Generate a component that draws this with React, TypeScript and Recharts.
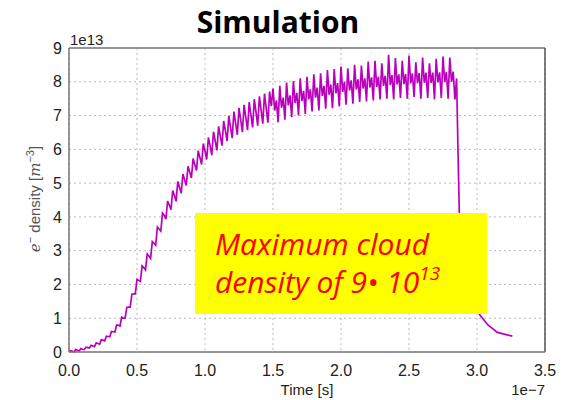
import React from "react";
import { LineChart, Line, XAxis, YAxis, CartesianGrid, ReferenceLine } from "recharts";

// Time in units of 1e-7 s, density in units of 1e13 m^-3
const TIME_STEP = 0.0125;
const riseValues = [
  // 0.0 - 0.5
  0.0, 0.04, 0.02, 0.01, 0.07, 0.05, 0.03, 0.1, 0.08, 0.07,
  0.14, 0.13, 0.12, 0.2, 0.18, 0.16, 0.27, 0.25, 0.23, 0.36,
  0.35, 0.33, 0.47, 0.46, 0.45, 0.61, 0.6, 0.59, 0.8, 0.79,
  0.77, 1.03, 1.0, 1.0, 1.32, 1.33, 1.33, 1.71, 1.72, 1.72,
  // 0.5 - 1.0
  2.15, 2.12, 2.09, 2.55, 2.5, 2.43, 2.9, 2.84, 2.77, 3.27,
  3.22, 3.16, 3.7, 3.64, 3.58, 4.11, 4.05, 3.93, 4.47, 4.35,
  4.21, 4.78, 4.63, 4.46, 5.05, 4.88, 4.7, 5.27, 5.1, 4.93,
  5.5, 5.33, 5.15, 5.73, 5.55, 5.37, 5.96, 5.76, 5.55, 6.17,
  // 1.0 - 1.5
  5.95, 5.7, 6.35, 6.1, 5.83, 6.52, 6.25, 5.97, 6.68, 6.4,
  6.11, 6.84, 6.55, 6.24, 6.99, 6.66, 6.33, 7.12, 6.78, 6.43,
  7.23, 6.87, 6.51, 7.32, 6.95, 6.57, 7.4, 7.02, 6.65, 7.49,
  7.1, 6.7, 7.57, 7.17, 6.76, 7.65, 7.22, 6.79, 7.71, 7.28,
  // 1.5 - 2.85
  7.8, 7.15, 7.45, 6.8, 7.88, 7.23, 7.53, 6.88, 7.98, 7.3,
  7.6, 6.95, 8.02, 7.37, 7.67, 7.0, 8.1, 7.43, 7.73, 7.05,
  8.15, 7.48, 7.78, 7.12, 8.22, 7.53, 7.83, 7.15, 8.25, 7.58,
  7.88, 7.2, 8.35, 7.62, 7.92, 7.22, 8.38, 7.66, 7.96, 7.27,
  8.45, 7.7, 8.0, 7.32, 8.4, 7.74, 8.04, 7.35, 8.5, 7.77,
  8.07, 7.4, 8.48, 7.8, 8.1, 7.42, 8.6, 7.83, 8.13, 7.45,
  8.62, 7.85, 8.15, 7.48, 8.55, 7.88, 8.18, 7.5, 8.8, 7.9,
  8.2, 7.48, 8.7, 7.92, 8.22, 7.52, 8.62, 7.93, 8.23, 7.5,
  8.78, 7.95, 8.25, 7.55, 8.58, 7.96, 8.26, 7.5, 8.72, 7.97,
  8.27, 7.52, 8.55, 7.97, 8.27, 7.48, 8.68, 7.98, 8.28, 7.52,
  8.75, 7.99, 8.29, 7.5, 8.72, 8.0, 8.3, 7.48, 8.1,
];
const tailTimes = [2.86, 2.87, 2.9, 2.95, 3.02, 3.08, 3.15, 3.26];
const tailValues = [6.0, 4.1, 2.7, 1.7, 1.1, 0.8, 0.58, 0.47];

const xTicks = [0, 0.5, 1.0, 1.5, 2.0, 2.5, 3.0, 3.5];
const yTicks = [0, 1, 2, 3, 4, 5, 6, 7, 8, 9];

const data = riseValues
  .map((v, i) => ({ t: Number((i * TIME_STEP).toFixed(4)), v }))
  .concat(tailTimes.map((t, i) => ({ t, v: tailValues[i] })));

const tickFont = { fontFamily: "Liberation Sans, Arial, sans-serif", fontSize: 16, fill: "#222" };

export default function App() {
  return (
    <div style={{ position: "absolute", left: 0, top: 0, width: 568, height: 400, background: "#fff" }}>
      <LineChart width={568} height={400} data={data} margin={{ top: 48, right: 23, bottom: 18, left: 9 }}>
        <CartesianGrid stroke="#b8b8b8" strokeDasharray="2 3" />
        <XAxis
          type="number"
          dataKey="t"
          domain={[0, 3.5]}
          ticks={xTicks}
          tickFormatter={(v: number) => v.toFixed(1)}
          tickSize={0}
          tickMargin={13}
          height={30}
          tick={tickFont}
          axisLine={{ stroke: "#777", strokeWidth: 1.5 }}
        />
        <YAxis
          type="number"
          domain={[0, 9]}
          ticks={yTicks}
          tickSize={0}
          tickMargin={7}
          width={60}
          tick={tickFont}
          axisLine={{ stroke: "#777", strokeWidth: 1.5 }}
        />
        <ReferenceLine y={9} stroke="#777" strokeWidth={1.5} />
        <ReferenceLine x={3.5} stroke="#555" strokeWidth={1.5} />
        <Line
          type="linear"
          dataKey="v"
          stroke="#BB00BB"
          strokeWidth={1.7}
          dot={false}
          isAnimationActive={false}
        />
      </LineChart>
      <svg
        width={568}
        height={400}
        style={{ position: "absolute", left: 0, top: 0, pointerEvents: "none" }}
      >
        <text x={278} y={33} textAnchor="middle" fontFamily="Open Sans, sans-serif" fontWeight="bold" fontSize={30} fill="#000">
          Simulation
        </text>
        <text x={70} y={45} fontFamily="Liberation Sans, Arial, sans-serif" fontSize={15} fill="#222">
          1e13
        </text>
        <text x={307} y={395} textAnchor="middle" fontFamily="Liberation Sans, Arial, sans-serif" fontSize={15} fill="#222">
          Time [s]
        </text>
        <text x={545} y={395} textAnchor="end" fontFamily="Liberation Sans, Arial, sans-serif" fontSize={15} fill="#222">
          1e−7
        </text>
        <text
          transform="translate(40,199) rotate(-90)"
          textAnchor="middle"
          fontFamily="Liberation Sans, Arial, sans-serif"
          fontSize={15}
          fill="#555"
        >
          <tspan fontStyle="italic" fontFamily="DejaVu Serif, serif">e</tspan>
          <tspan fontSize={11} dy={-6}>−</tspan>
          <tspan dy={6}> density [</tspan>
          <tspan fontStyle="italic" fontFamily="DejaVu Serif, serif">m</tspan>
          <tspan fontSize={11} dy={-6}>−3</tspan>
          <tspan dy={6}>]</tspan>
        </text>
        <rect x={195} y={213} width={292} height={101} fill="#FFFF00" />
        <text x={215} y={255} fontFamily="Open Sans, sans-serif" fontStyle="italic" fontSize={30} fill="#FF0000">
          Maximum cloud
        </text>
        <text x={215} y={293} fontFamily="Open Sans, sans-serif" fontStyle="italic" fontSize={30} fill="#FF0000">
          density of 9• 10
          <tspan fontSize={19} dy={-13}>13</tspan>
        </text>
      </svg>
    </div>
  );
}
